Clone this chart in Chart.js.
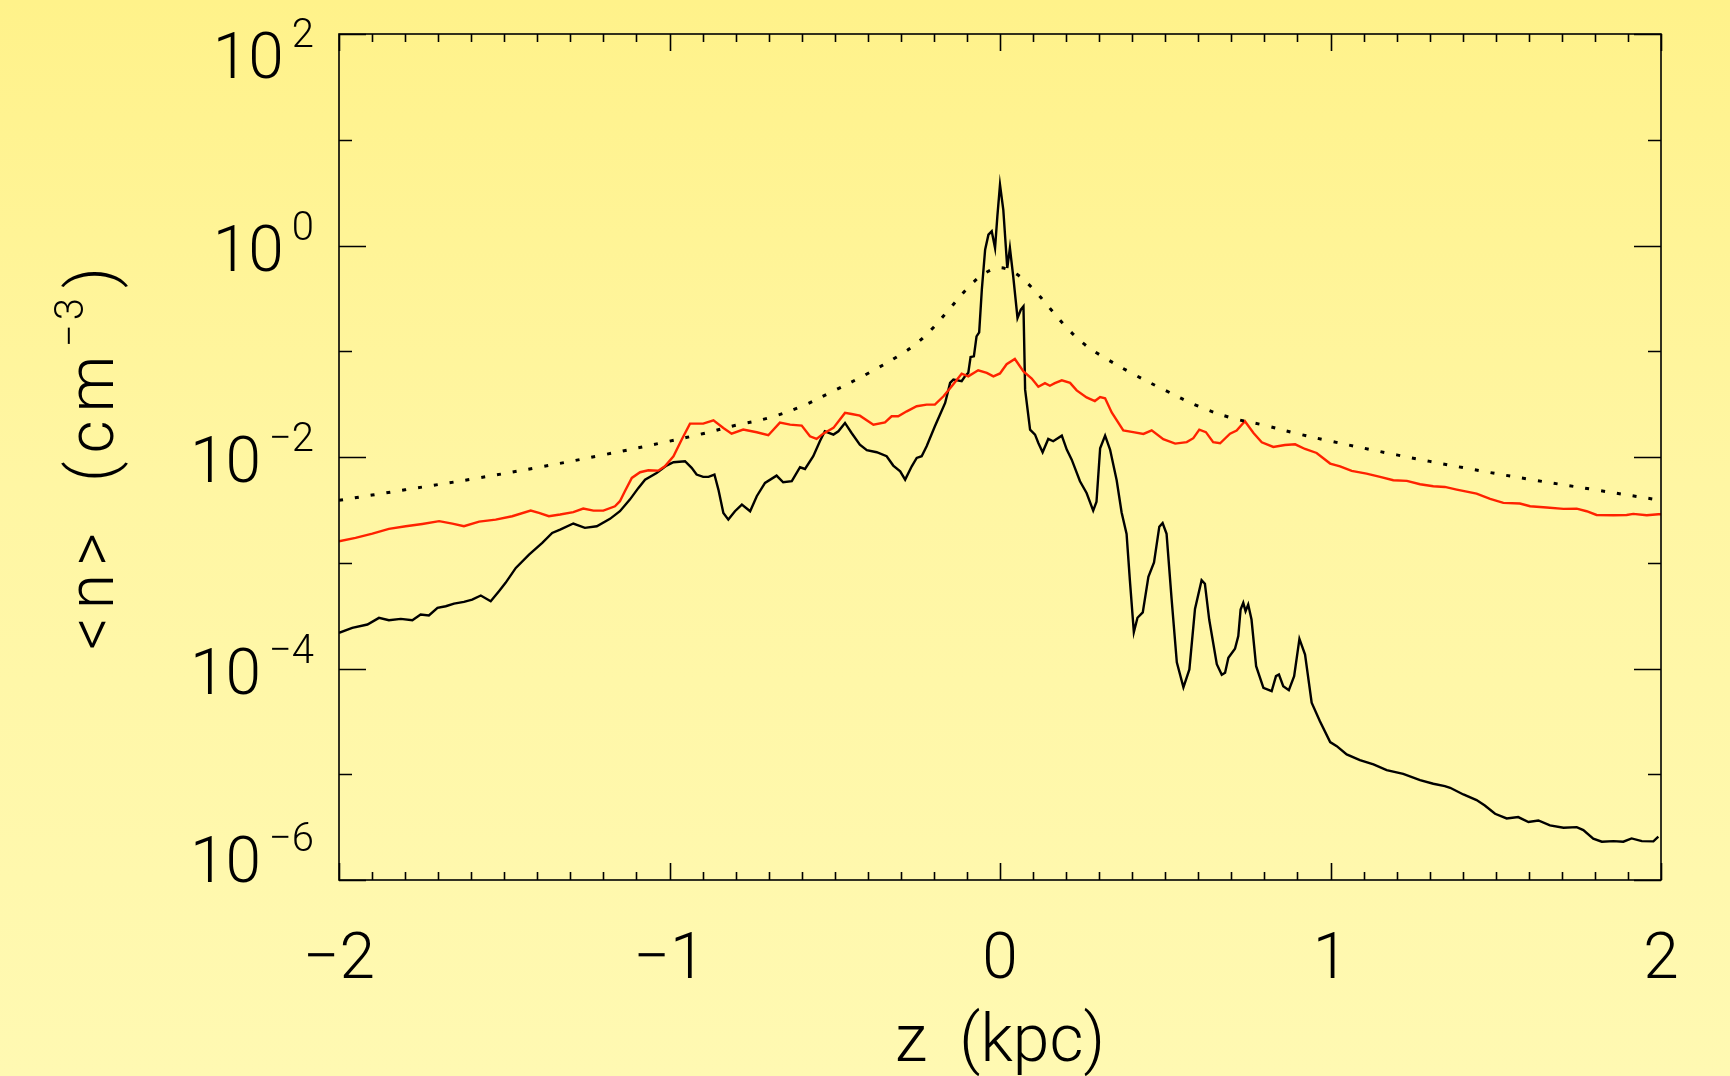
<!DOCTYPE html>
<html><head><meta charset="utf-8">
<script src="https://cdn.jsdelivr.net/npm/chart.js@4.4.1/dist/chart.umd.min.js"></script>
<style>
html,body{margin:0;padding:0;width:1730px;height:1076px;overflow:hidden;
background:linear-gradient(180deg,#fff28a 0%,#fff6a3 45%,#fff9b2 100%);}
#c{position:absolute;left:0;top:0;}
</style></head><body>
<canvas id="c" width="1730" height="1076"></canvas>
<script>
// ---- data (z in kpc, log10 of <n> in cm^-3) ----
const xTickValues = [-2, -1, 0, 1, 2];
const xTickLabels = ['\u22122', '\u22121', '0', '1', '2'];
const yTickExponents = [2, 0, -2, -4, -6];
const yTickExpLabels = ['2', '0', '\u22122', '\u22124', '\u22126'];

const blackZ = [-2.000,-1.960,-1.914,-1.879,-1.849,-1.813,-1.778,-1.753,-1.728,-1.702,-1.677,-1.652,-1.622,-1.597,-1.571,-1.541,-1.516,-1.496,-1.465,-1.425,-1.385,-1.355,-1.331,-1.291,-1.256,-1.220,-1.180,-1.150,-1.120,-1.094,-1.074,-1.039,-1.009,-0.988,-0.953,-0.933,-0.918,-0.898,-0.882,-0.864,-0.852,-0.837,-0.822,-0.802,-0.781,-0.756,-0.736,-0.711,-0.676,-0.656,-0.630,-0.605,-0.590,-0.565,-0.545,-0.530,-0.504,-0.489,-0.469,-0.449,-0.424,-0.403,-0.373,-0.343,-0.323,-0.302,-0.287,-0.267,-0.252,-0.237,-0.222,-0.197,-0.166,-0.151,-0.141,-0.116,-0.106,-0.096,-0.089,-0.079,-0.071,-0.063,-0.055,-0.045,-0.035,-0.025,-0.015,-0.008,0.000,0.010,0.022,0.030,0.040,0.053,0.063,0.071,0.076,0.091,0.106,0.116,0.129,0.146,0.161,0.187,0.202,0.217,0.242,0.262,0.282,0.292,0.303,0.318,0.333,0.353,0.368,0.383,0.393,0.405,0.416,0.432,0.449,0.466,0.482,0.492,0.504,0.519,0.535,0.555,0.573,0.590,0.610,0.620,0.633,0.656,0.671,0.681,0.691,0.711,0.721,0.728,0.736,0.743,0.751,0.761,0.775,0.797,0.822,0.835,0.844,0.857,0.874,0.890,0.906,0.923,0.943,0.968,0.999,1.019,1.049,1.089,1.130,1.170,1.220,1.271,1.311,1.346,1.362,1.402,1.442,1.467,1.498,1.533,1.568,1.599,1.629,1.664,1.705,1.745,1.765,1.795,1.821,1.856,1.886,1.911,1.942,1.977,1.992];
const blackLog = [-3.663,-3.616,-3.584,-3.521,-3.543,-3.531,-3.543,-3.490,-3.499,-3.427,-3.411,-3.386,-3.370,-3.348,-3.310,-3.364,-3.269,-3.190,-3.049,-2.923,-2.812,-2.718,-2.686,-2.629,-2.670,-2.655,-2.585,-2.513,-2.403,-2.292,-2.214,-2.151,-2.081,-2.050,-2.040,-2.103,-2.166,-2.188,-2.188,-2.166,-2.308,-2.529,-2.592,-2.513,-2.450,-2.513,-2.371,-2.245,-2.176,-2.239,-2.229,-2.097,-2.113,-1.993,-1.851,-1.757,-1.788,-1.757,-1.678,-1.773,-1.883,-1.936,-1.955,-1.993,-2.081,-2.135,-2.214,-2.088,-2.009,-1.993,-1.899,-1.710,-1.489,-1.300,-1.268,-1.284,-1.237,-1.205,-1.054,-1.048,-0.859,-0.821,-0.418,-0.040,0.102,0.134,-0.024,0.275,0.575,0.338,-0.213,-0.024,-0.292,-0.685,-0.607,-0.575,-1.363,-1.741,-1.788,-1.867,-1.955,-1.829,-1.851,-1.798,-1.930,-2.025,-2.229,-2.340,-2.507,-2.423,-1.917,-1.798,-1.930,-2.220,-2.524,-2.727,-3.166,-3.655,-3.520,-3.469,-3.132,-2.997,-2.659,-2.625,-2.727,-3.334,-3.942,-4.178,-4.009,-3.436,-3.166,-3.199,-3.537,-3.959,-4.060,-4.040,-3.899,-3.814,-3.694,-3.442,-3.379,-3.458,-3.395,-3.537,-3.978,-4.183,-4.214,-4.072,-4.057,-4.167,-4.205,-4.072,-3.720,-3.868,-4.324,-4.498,-4.696,-4.734,-4.813,-4.866,-4.907,-4.961,-4.996,-5.055,-5.090,-5.112,-5.128,-5.191,-5.244,-5.295,-5.374,-5.418,-5.405,-5.452,-5.437,-5.484,-5.506,-5.500,-5.528,-5.610,-5.638,-5.632,-5.638,-5.607,-5.632,-5.635,-5.591];

const redZ = [-2.000,-1.950,-1.899,-1.849,-1.798,-1.748,-1.697,-1.657,-1.622,-1.576,-1.526,-1.476,-1.420,-1.395,-1.365,-1.331,-1.291,-1.261,-1.230,-1.200,-1.165,-1.150,-1.135,-1.114,-1.089,-1.064,-1.034,-1.014,-0.988,-0.963,-0.938,-0.898,-0.867,-0.837,-0.812,-0.777,-0.736,-0.701,-0.666,-0.635,-0.600,-0.575,-0.555,-0.535,-0.504,-0.469,-0.449,-0.424,-0.383,-0.348,-0.328,-0.308,-0.282,-0.252,-0.222,-0.197,-0.171,-0.146,-0.116,-0.096,-0.066,-0.040,-0.020,0.000,0.020,0.045,0.071,0.096,0.116,0.136,0.151,0.166,0.187,0.212,0.232,0.262,0.287,0.303,0.318,0.338,0.373,0.403,0.434,0.459,0.494,0.530,0.565,0.585,0.603,0.623,0.645,0.666,0.696,0.716,0.741,0.767,0.792,0.827,0.862,0.893,0.923,0.958,0.999,1.029,1.064,1.109,1.150,1.190,1.231,1.271,1.311,1.346,1.382,1.442,1.483,1.523,1.573,1.604,1.654,1.705,1.745,1.775,1.805,1.856,1.896,1.916,1.957,1.992,2.000];
const redLog = [-2.797,-2.765,-2.724,-2.680,-2.655,-2.633,-2.607,-2.630,-2.655,-2.611,-2.592,-2.560,-2.507,-2.529,-2.560,-2.544,-2.522,-2.488,-2.507,-2.507,-2.466,-2.418,-2.324,-2.198,-2.144,-2.125,-2.129,-2.088,-1.993,-1.835,-1.684,-1.684,-1.653,-1.725,-1.779,-1.741,-1.766,-1.794,-1.675,-1.694,-1.703,-1.804,-1.829,-1.779,-1.725,-1.583,-1.593,-1.609,-1.694,-1.672,-1.615,-1.615,-1.568,-1.520,-1.505,-1.505,-1.426,-1.330,-1.212,-1.237,-1.180,-1.205,-1.237,-1.210,-1.123,-1.073,-1.190,-1.258,-1.336,-1.302,-1.326,-1.302,-1.275,-1.299,-1.370,-1.437,-1.471,-1.434,-1.444,-1.579,-1.748,-1.765,-1.782,-1.748,-1.832,-1.873,-1.859,-1.822,-1.741,-1.765,-1.859,-1.870,-1.779,-1.750,-1.662,-1.773,-1.861,-1.905,-1.886,-1.880,-1.924,-1.962,-2.062,-2.088,-2.132,-2.157,-2.188,-2.220,-2.226,-2.258,-2.277,-2.283,-2.308,-2.346,-2.396,-2.434,-2.440,-2.466,-2.478,-2.491,-2.488,-2.513,-2.548,-2.551,-2.548,-2.538,-2.551,-2.541,-2.541];

const modelZ = [-2,-1.8,-1.6,-1.4,-1.2,-1.0,-0.9,-0.8,-0.7,-0.6,-0.5,-0.4,-0.3,-0.25,-0.2,-0.15,-0.1,-0.05,0,0.05,0.1,0.15,0.2,0.25,0.3,0.4,0.5,0.6,0.7,0.8,0.9,1.0,1.2,1.4,1.6,1.8,2.0];
const modelLog = [-2.41,-2.31,-2.21,-2.10,-1.98,-1.85,-1.78,-1.70,-1.63,-1.52,-1.37,-1.21,-1.03,-0.92,-0.77,-0.59,-0.41,-0.27,-0.21,-0.27,-0.41,-0.59,-0.77,-0.92,-1.03,-1.21,-1.37,-1.52,-1.63,-1.70,-1.78,-1.85,-1.98,-2.10,-2.21,-2.31,-2.41];

const xTitle = 'z  (kpc)';
const FONT = 'Roboto';

const toPts = (zs, ls) => zs.map((z, i) => ({x: z, y: Math.pow(10, ls[i])}));

const axesPlugin = {
  id: 'idlAxes',
  afterDraw(chart) {
    const {ctx, chartArea: a, scales: {x, y}} = chart;
    ctx.save();
    ctx.strokeStyle = '#000';
    ctx.fillStyle = '#000';
    ctx.lineWidth = 1.6;
    ctx.strokeRect(a.left, a.top, a.right - a.left, a.bottom - a.top);
    ctx.beginPath();
    // x ticks (top and bottom), minor every 0.1
    for (let i = -20; i <= 20; i++) {
      const v = i / 10;
      const px = Math.round(x.getPixelForValue(v)) + 0.5;
      const len = (i % 10 === 0) ? 17 : 8;
      ctx.moveTo(px, a.bottom); ctx.lineTo(px, a.bottom - len);
      ctx.moveTo(px, a.top); ctx.lineTo(px, a.top + len);
    }
    // y ticks (left and right), major each 2 decades, minor at odd decades
    for (let e = -6; e <= 2; e++) {
      const py = Math.round(y.getPixelForValue(Math.pow(10, e))) + 0.5;
      const len = (e % 2 === 0) ? 27 : 13;
      ctx.moveTo(a.left, py); ctx.lineTo(a.left + len, py);
      ctx.moveTo(a.right, py); ctx.lineTo(a.right - len, py);
    }
    ctx.stroke();

    // x tick labels
    ctx.font = `300 64px ${FONT}`;
    ctx.textAlign = 'center';
    ctx.textBaseline = 'alphabetic';
    xTickValues.forEach((v, i) => {
      ctx.fillText(xTickLabels[i], x.getPixelForValue(v), 978);
    });

    // y tick labels  10^e
    const rightEdge = 314;
    yTickExponents.forEach((e, i) => {
      const ty = y.getPixelForValue(Math.pow(10, e));
      let base = ty + 25;
      base = Math.max(base, a.top + 44);
      base = Math.min(base, a.bottom + 2);
      ctx.textAlign = 'right';
      ctx.font = `300 40px ${FONT}`;
      const expTxt = yTickExpLabels[i];
      const ew = ctx.measureText(expTxt).width;
      ctx.fillText(expTxt, rightEdge, base - 31);
      ctx.font = `300 64px ${FONT}`;
      ctx.fillText('10', rightEdge - ew - 8, base);
    });

    // x axis title
    ctx.font = `300 66px ${FONT}`;
    ctx.textAlign = 'center';
    ctx.fillText(xTitle, (a.left + a.right) / 2, 1061);

    // y axis title (rotated)
    ctx.save();
    ctx.translate(113, 650);
    ctx.rotate(-Math.PI / 2);
    ctx.textAlign = 'left';
    ctx.font = `300 64px ${FONT}`;
    ctx.letterSpacing = '8px';
    ctx.fillText('<n>', 0, 0);
    ctx.fillText('(cm', 168, 0);
    ctx.font = `300 40px ${FONT}`;
    ctx.letterSpacing = '4px';
    ctx.fillText('\u22123', 303, -30);
    ctx.font = `300 64px ${FONT}`;
    ctx.letterSpacing = '0px';
    ctx.fillText(')', 362, 0);
    ctx.restore();

    ctx.restore();
  }
};

new Chart(document.getElementById('c'), {
  type: 'line',
  data: {
    datasets: [
      {label: 'model', data: toPts(modelZ, modelLog), borderColor: '#000', borderWidth: 3,
       borderDash: [4, 12], tension: 0.35, pointRadius: 0, fill: false},
      {label: 'red', data: toPts(redZ, redLog), borderColor: '#ff2200', borderWidth: 2.4,
       tension: 0, pointRadius: 0, fill: false},
      {label: 'black', data: toPts(blackZ, blackLog), borderColor: '#000', borderWidth: 2.4,
       tension: 0, pointRadius: 0, fill: false}
    ]
  },
  options: {
    responsive: false,
    animation: false,
    devicePixelRatio: 1,
    layout: {padding: {left: 339, right: 69, top: 34, bottom: 196}},
    scales: {
      x: {type: 'linear', min: -2, max: 2, display: false},
      y: {type: 'logarithmic', min: 1e-6, max: 1e2, display: false}
    },
    plugins: {legend: {display: false}, tooltip: {enabled: false}}
  },
  plugins: [axesPlugin]
});
</script>
</body></html>
